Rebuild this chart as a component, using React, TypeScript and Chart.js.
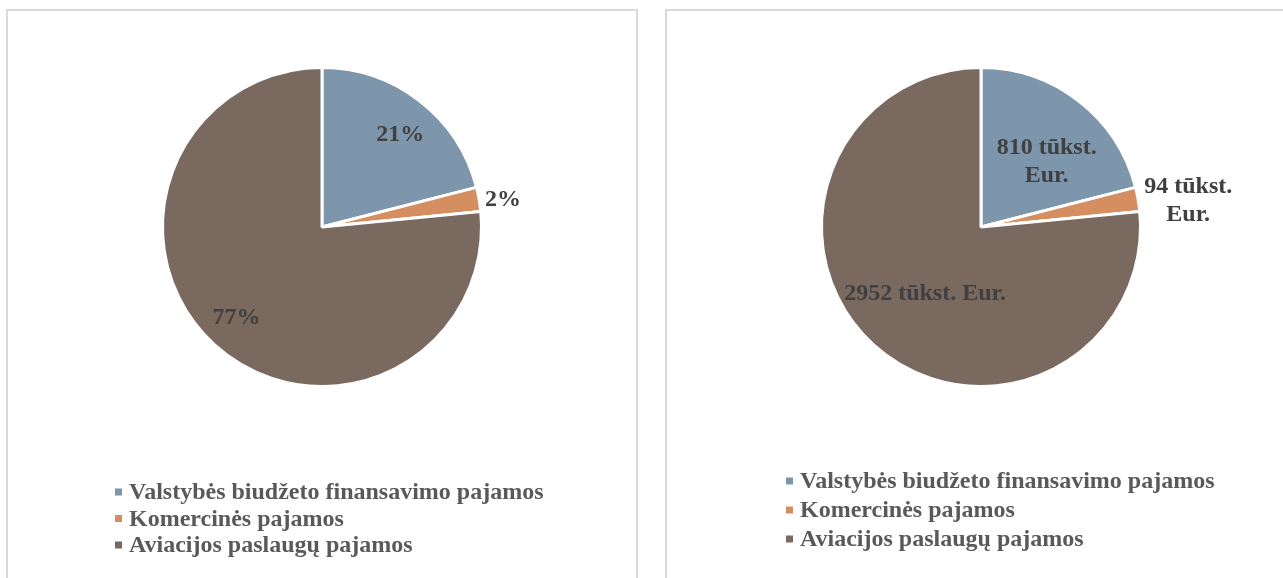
import React, { useEffect, useRef } from "react";
import { Chart, registerables } from "chart.js";

Chart.register(...registerables);

const categories = [
  "Valstybės biudžeto finansavimo pajamos",
  "Komercinės pajamos",
  "Aviacijos paslaugų pajamos",
];
const revenueValues = [810, 94, 2952];
const sliceColors = ["#7d96ac", "#d48e5f", "#7a695e"];
const unitLabel = "tūkst. Eur.";

type LabelCfg = {
  texts: string[][];
  factors: number[];
  dx: number[];
  dy: number[];
  legendY: number;
  legendStep: number;
  legendX: number;
};

const total = revenueValues.reduce((a, b) => a + b, 0);
const percentTexts = revenueValues.map((v) => [Math.round((v / total) * 100) + "%"]);
const amountTexts = revenueValues.map((v, i) =>
  i < 2 ? [`${v} tūkst.`, "Eur."] : [`${v} ${unitLabel}`]
);

const labelPlugin = {
  id: "sliceLabels",
  afterDatasetsDraw(chart: any) {
    const cfg: LabelCfg = chart.options.plugins.sliceLabels;
    const ctx = chart.ctx;
    const meta = chart.getDatasetMeta(0);
    ctx.save();
    ctx.font = "bold 24px 'Liberation Serif', 'Times New Roman', serif";
    ctx.fillStyle = "#404040";
    ctx.textBaseline = "middle";
    ctx.textAlign = "center";
    meta.data.forEach((arc: any, i: number) => {
      const { x, y, startAngle, endAngle, outerRadius } = arc.getProps(
        ["x", "y", "startAngle", "endAngle", "outerRadius"],
        true
      );
      const mid = (startAngle + endAngle) / 2;
      const r = outerRadius * cfg.factors[i];
      const cx = x + Math.cos(mid) * r + cfg.dx[i];
      const cy = y + Math.sin(mid) * r + cfg.dy[i] + 4;
      const lines = cfg.texts[i];
      const lh = 28;
      lines.forEach((t, k) => {
        ctx.fillText(t, cx, cy + (k - (lines.length - 1) / 2) * lh);
      });
    });
    ctx.restore();
  },
  afterDraw(chart: any) {
    const cfg: LabelCfg = chart.options.plugins.sliceLabels;
    const ctx = chart.ctx;
    ctx.save();
    ctx.font = "bold 24px 'Liberation Serif', 'Times New Roman', serif";
    ctx.textBaseline = "middle";
    ctx.textAlign = "left";
    const labels: string[] = chart.data.labels;
    const colors: string[] = chart.data.datasets[0].backgroundColor;
    labels.forEach((lab, i) => {
      const yy = cfg.legendY + i * cfg.legendStep;
      ctx.fillStyle = colors[i];
      ctx.fillRect(cfg.legendX, yy - 3.5, 7, 7);
      ctx.fillStyle = "#595959";
      ctx.fillText(lab, cfg.legendX + 14, yy + 1);
    });
    ctx.restore();
  },
};

function PiePanel({ left, labelCfg }: { left: number; labelCfg: LabelCfg }) {
  const ref = useRef<HTMLCanvasElement>(null);
  useEffect(() => {
    if (!ref.current) return;
    const chart = new Chart(ref.current, {
      type: "pie",
      data: {
        labels: categories,
        datasets: [
          {
            data: revenueValues,
            backgroundColor: sliceColors,
            borderColor: "#ffffff",
            borderWidth: 3,
          },
        ],
      },
      options: {
        animation: false,
        responsive: false,
        maintainAspectRatio: false,
        layout: { padding: { top: 55, bottom: 193, left: 0, right: 0 } },
        plugins: {
          legend: { display: false },
          tooltip: { enabled: false },
          sliceLabels: labelCfg,
        } as any,
      },
      plugins: [labelPlugin],
    });
    return () => chart.destroy();
  }, []);
  return (
    <div
      style={{
        position: "absolute",
        left,
        top: 9,
        width: 628,
        height: 580,
        border: "2px solid #d9d9d9",
        background: "#ffffff",
      }}
    >
      <canvas ref={ref} width={628} height={570} style={{ display: "block" }} />
    </div>
  );
}

export default function App() {
  const leftCfg: LabelCfg = {
    texts: percentTexts,
    factors: [0.77, 1.14, 0.78],
    dx: [3, 2, -2],
    dy: [1, 0, -5],
    legendY: 481,
    legendStep: 26.5,
    legendX: 107,
  };
  const rightCfg: LabelCfg = {
    texts: amountTexts,
    factors: [0.6, 1.3, 0.55],
    dx: [7, 3, 3],
    dy: [6, 6, -2],
    legendY: 470,
    legendStep: 29,
    legendX: 119,
  };
  return (
    <div
      style={{
        position: "fixed",
        inset: 0,
        overflow: "hidden",
        background: "#ffffff",
      }}
    >
      <PiePanel left={6} labelCfg={leftCfg} />
      <PiePanel left={665} labelCfg={rightCfg} />
    </div>
  );
}
